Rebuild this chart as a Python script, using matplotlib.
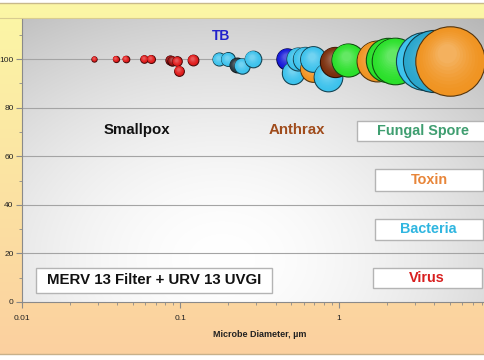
import numpy as np
import matplotlib
matplotlib.use("Agg")
import matplotlib.pyplot as plt
from matplotlib.patches import Rectangle
from matplotlib.transforms import ScaledTranslation
from matplotlib.colors import to_rgb

# ---------------- data ----------------
diameter = [0.0286, 0.039, 0.045, 0.059, 0.065, 0.086, 0.089, 0.095, 0.098, 0.12,
            0.175, 0.199, 0.226, 0.244, 0.286,
            0.47, 0.515, 0.551, 0.61, 0.686, 0.683, 0.853, 0.944, 1.135,
            1.73, 2.04, 2.25, 3.5, 4.0, 5.0]
removal = [100, 100, 100, 100, 100, 99.5, 99.3, 99, 95.2, 99.6,
           99.8, 99.8, 97.4, 97.1, 100,
           100, 94.4, 100, 100, 99.8, 96.0, 92.7, 98.9, 99.6,
           99.2, 99.5, 99.3, 99.2, 99.2, 99.3]
category = ["virus", "virus", "virus", "virus", "virus", "smallpox", "smallpox", "virus", "virus", "virus",
            "bacteria", "bacteria", "tb", "bacteria", "bacteria",
            "blue", "bacteria", "bacteria", "bacteria", "bacteria", "toxin", "bacteria", "anthrax", "fungal",
            "toxin", "fungal", "fungal", "bacteria", "teal", "toxin"]

x_ticks = [0.01, 0.1, 1]
x_ticklabels = ["0.01", "0.1", "1"]
y_ticks = [0, 20, 40, 60, 80, 100]

colors = {"virus": "#e01a1a", "smallpox": "#9a1010", "bacteria": "#3cc2ec", "teal": "#2aa6cc",
          "tb": "#26363e", "blue": "#1418d8", "toxin": "#f09422", "fungal": "#2ae02a",
          "anthrax": "#7a2e0c"}

W, H = 485, 360
fig = plt.figure(figsize=(W / 100, H / 100), dpi=100)
fig.patch.set_facecolor("white")

def fx(x):
    return x / W

def fy(y):
    return 1 - y / H

# ---------------- figure background ----------------
bg = fig.add_axes([0, 0, 1, 1], zorder=-10)
bg.set_axis_off()
bg.set_xlim(0, W)
bg.set_ylim(H, 0)
top_c = np.array(to_rgb("#fcf7a6"))
bot_c = np.array(to_rgb("#fbd09f"))
t = np.linspace(0, 1, 256)[:, None]
grad = (top_c[None, None, :] * (1 - t[..., None]) + bot_c[None, None, :] * t[..., None])
grad = np.repeat(grad, 2, axis=1)
bg.imshow(grad, extent=[0, W, 354, 3], aspect="auto", interpolation="bilinear")
bg.plot([0, W], [3, 3], color="#c8b98a", lw=1)
bg.plot([0, W], [18, 18], color="#d8cc90", lw=0.8)
bg.plot([0, W], [354, 354], color="#c8b08a", lw=1)

# ---------------- main axes ----------------
left_px, right_px = 22, 22 + 3 * 158.5
top_px, bot_px = 19, 302
ax = fig.add_axes([fx(left_px), fy(bot_px), (right_px - left_px) / W, (bot_px - top_px) / H])
ax.set_xscale("log")
ax.set_xlim(0.01, 10)
ax.set_ylim(0, (bot_px - top_px) / 2.43)
ax.set_facecolor("none")

# plot-area gradient (grey edges, white centre)
gx, gy = np.meshgrid(np.linspace(0, 1, 200), np.linspace(0, 1, 200))
d = np.sqrt(((gx - 0.42) / 0.75) ** 2 + ((gy - 0.15) / 0.95) ** 2)
v = 1 - 0.22 * np.clip(d, 0, 1.2) ** 1.7
img = np.dstack([v, v, v])
ax.imshow(img, extent=[0, 1, 0, 1], transform=ax.transAxes, origin="lower",
          aspect="auto", zorder=0, interpolation="bilinear")

for yv in y_ticks[1:]:
    ax.axhline(yv, color="#a4a4a4", lw=0.8, zorder=1)

ax.set_xticks(x_ticks)
ax.set_xticklabels(x_ticklabels)
ax.set_yticks(y_ticks)
ax.set_yticks([10, 30, 50, 70, 90, 110], minor=True)
for s in ["top", "right"]:
    ax.spines[s].set_visible(False)
for s in ["left", "bottom"]:
    ax.spines[s].set_color("#8a8a8a")
    ax.spines[s].set_linewidth(0.8)
ax.tick_params(axis="both", which="major", labelsize=6, colors="#8a8a8a", labelcolor="#222222",
               length=4, width=0.8)
ax.tick_params(axis="y", which="major", pad=2)
ax.tick_params(axis="x", which="major", pad=5)
ax.tick_params(axis="both", which="minor", colors="#8a8a8a", length=2.5, width=0.6)
for lab in ax.get_xticklabels() + ax.get_yticklabels():
    lab.set_fontfamily(["Liberation Sans", "DejaVu Sans"])
ax.set_xlabel("Microbe Diameter, \u00b5m", fontsize=6.5, fontweight="bold",
              family=["Liberation Sans", "DejaVu Sans"], labelpad=6, color="#222222")

# ---------------- bubbles ----------------
k = 500.0  # points^2 per micron (bubble area proportional to diameter)
order = np.argsort(diameter, kind="stable")
z = 3.0
nl = 10
for i in order:
    xi, yi = diameter[i], removal[i]
    c = np.array(to_rgb(colors[category[i]]))
    s = k * xi
    r = np.sqrt(s) / 2
    edge = c * 0.35
    ax.scatter([xi], [yi], s=s, color=c, edgecolors=edge, linewidths=0.8, zorder=z)
    for j in range(1, nl):
        f = 1 - 0.8 * j / nl
        sz = s * f ** 2
        dx, dy = -0.10 * r * (1 - f), 0.28 * r * (1 - f)
        col = c + (1 - c) * 0.32 * (j / nl) ** 1.5
        tr = ax.transData + ScaledTranslation(dx / 72, dy / 72, fig.dpi_scale_trans)
        ax.scatter([xi], [yi], s=sz, color=col, edgecolors="none", zorder=z + j * 0.001,
                   transform=tr)
    z += 0.02

# ---------------- labels ----------------
fam = ["Liberation Sans", "DejaVu Sans"]
fig.text(fx(221), fy(36), "TB", color="#2222cc", fontsize=10, fontweight="bold",
         family=fam, ha="center", va="center", zorder=20)
fig.text(fx(137), fy(130), "Smallpox", color="#111111", fontsize=10.8, fontweight="bold",
         family=fam, ha="center", va="center", zorder=20)
fig.text(fx(296.5), fy(130), "Anthrax", color="#a04c1c", fontsize=10.8, fontweight="bold",
         family=fam, ha="center", va="center", zorder=20)

boxes = [
    ("Fungal Spore", "#3f9e70", 357, 121, 495, 141, 423, 131, 10.4),
    ("Toxin", "#e8863a", 375, 169, 483, 191, 429, 180, 10.4),
    ("Bacteria", "#30b6e0", 375, 219, 483, 240, 428, 229.5, 10.4),
    ("Virus", "#d81e1e", 373, 268, 482, 288, 427, 278, 10.4),
    ("MERV 13 Filter + URV 13 UVGI", "#111111", 36, 268, 272, 293, 154, 280.5, 10.8),
]
for txt, col, x0, y0, x1, y1, tx, ty, fs in boxes:
    rect = Rectangle((fx(x0), fy(y1)), (x1 - x0) / W, (y1 - y0) / H, transform=fig.transFigure,
                     facecolor="white", edgecolor="#b4b4b4", lw=1, zorder=15)
    fig.add_artist(rect)
    fig.text(fx(tx), fy(ty), txt, color=col, fontsize=fs, fontweight="bold",
             family=fam, ha="center", va="center", zorder=20)

fig.savefig("out.png", dpi=100)
